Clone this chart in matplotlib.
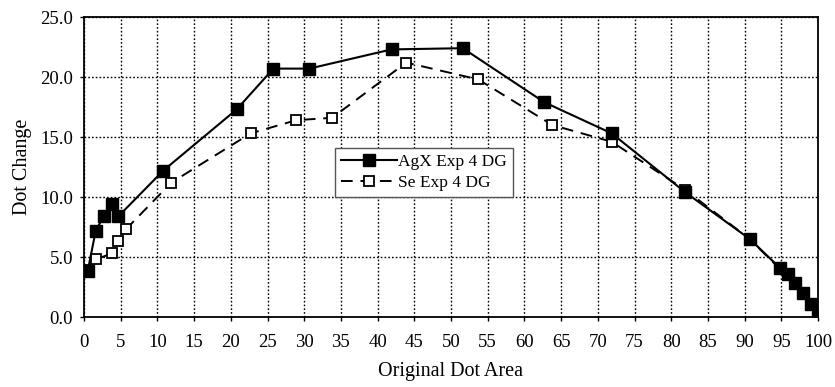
import matplotlib
matplotlib.use("Agg")
import matplotlib.pyplot as plt

agx_x = [0.5, 1.6, 2.7, 3.8, 4.7, 10.8, 20.8, 25.8, 30.7, 41.9, 51.6, 62.7, 71.9, 81.9, 90.7, 94.8, 95.9, 96.9, 98.0, 99.1, 100.0]
agx_y = [3.8, 7.2, 8.4, 9.4, 8.4, 12.2, 17.3, 20.7, 20.7, 22.3, 22.4, 17.9, 15.3, 10.4, 6.5, 4.1, 3.6, 2.8, 2.0, 1.1, 0.0]

se_x = [0.5, 1.6, 3.8, 4.6, 5.7, 11.9, 22.7, 28.9, 33.8, 43.9, 53.7, 63.8, 71.9, 81.9, 90.7, 94.8, 95.9, 96.9, 98.0, 99.1, 100.0]
se_y = [3.9, 4.8, 5.3, 6.3, 7.3, 11.2, 15.3, 16.4, 16.6, 21.2, 19.8, 16.0, 14.6, 10.6, 6.5, 4.0, 3.5, 2.8, 2.0, 1.1, 0.0]

x_ticks = list(range(0, 101, 5))
y_ticks = [0, 5, 10, 15, 20, 25]

plt.rcParams['font.family'] = ['Liberation Serif', 'DejaVu Serif']

fig = plt.figure(figsize=(8.35, 3.87), dpi=100)
ax = fig.add_axes([84/835, 1-317/387, (818-84)/835, 300/387])

ax.plot(se_x, se_y, color='black', linestyle=(0, (6, 4)), linewidth=1.4,
        marker='s', markersize=7, markerfacecolor='white', markeredgecolor='black',
        markeredgewidth=1.3, label='Se Exp 4 DG', zorder=3)
ax.plot(agx_x, agx_y, color='black', linestyle='-', linewidth=1.5,
        marker='s', markersize=8, markerfacecolor='black', markeredgecolor='black',
        label='AgX Exp 4 DG', zorder=4)

ax.set_xlim(0, 100)
ax.set_ylim(0, 25)
ax.set_xticks(x_ticks)
ax.set_xticklabels([str(t) for t in x_ticks])
ax.set_yticks(y_ticks)
ax.set_yticklabels(['%.1f' % t for t in y_ticks])
ax.grid(True, color='black', linestyle=(0, (1.2, 1.5)), linewidth=1.0)
ax.set_axisbelow(True)
for s in ax.spines.values():
    s.set_linewidth(1.3)
ax.tick_params(axis='both', labelsize=13.5, length=3, width=1, colors='black')
ax.tick_params(axis='x', pad=9)
ax.tick_params(axis='y', pad=5)

ax.set_xlabel('Original Dot Area', fontsize=14.5, labelpad=8)
ax.set_ylabel('Dot Change', fontsize=14.5, labelpad=6)

handles, labels = ax.get_legend_handles_labels()
leg = ax.legend(handles[::-1], labels[::-1], loc='upper left', bbox_to_anchor=(0.342, 0.565),
                fontsize=12.5, frameon=True, fancybox=False, handlelength=3.2,
                handletextpad=0.1, borderpad=0.35, labelspacing=0.3, borderaxespad=0)
leg.get_frame().set_edgecolor('#555555')
leg.get_frame().set_linewidth(1.0)
leg.get_frame().set_alpha(1)

fig.savefig('out.png', dpi=100)
